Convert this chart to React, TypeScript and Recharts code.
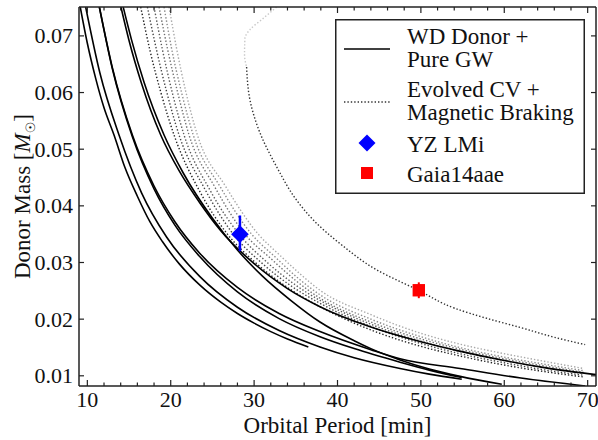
import React from 'react';
import { ComposedChart, Line, Scatter, XAxis, YAxis, ErrorBar, Legend } from 'recharts';

// Axis ticks
const periodTicks = [10, 12, 14, 16, 18, 20, 22, 24, 26, 28, 30, 32, 34, 36, 38, 40, 42, 44, 46, 48, 50, 52, 54, 56, 58, 60, 62, 64, 66, 68, 70];
const massTicks = [0.01, 0.02, 0.03, 0.04, 0.05, 0.06, 0.07];
const periodDomain = [9, 71];
const massDomain = [0.0082, 0.0751];

// WD donor tracks, pure gravitational-wave driven: [period (min), donor mass (Msun)]
const wdTrack1 = [[9.15, 0.0751], [10, 0.0687], [11, 0.0625], [12, 0.0573], [13.2, 0.0525], [14.5, 0.0468], [16, 0.0417], [17.5, 0.0372], [19, 0.0337], [21, 0.0298], [23.5, 0.026], [26, 0.023], [28, 0.021], [30, 0.0193], [32, 0.0178], [34, 0.0165], [36.5, 0.0151]];
const wdTrack2 = [[9.8, 0.0751], [11.5, 0.0635], [13.8, 0.0525], [16.5, 0.0423], [19.5, 0.0345], [23.5, 0.0275], [28, 0.0221], [33, 0.018], [37.9, 0.0151], [42, 0.0132], [47.5, 0.0113], [51, 0.0103], [54.9, 0.0094]];
const wdTrack3 = [[11.44, 0.0751], [13, 0.0644], [15.4, 0.0525], [18, 0.0435], [20.5, 0.0372], [23.5, 0.0316], [28, 0.0256], [33, 0.021], [37.9, 0.0178], [44, 0.0146], [47.5, 0.013], [54.7, 0.0113], [62, 0.0096], [69.7, 0.0082]];
const wdTrack4 = [[11.44, 0.0751], [13, 0.0642], [15.4, 0.0522], [18, 0.043], [20.5, 0.0366], [23.5, 0.031], [28, 0.0248], [33, 0.0201], [37.9, 0.0169], [42, 0.0148], [47.5, 0.0124], [51, 0.011], [54.9, 0.0097]];
const wdTrack5 = [[14.03, 0.0751], [15, 0.0692], [16.5, 0.0616], [18.8, 0.0525], [21, 0.0462], [23.5, 0.0405], [26, 0.0356], [30, 0.0298], [34, 0.0254], [37.9, 0.0222], [44, 0.0186], [50, 0.016], [54.5, 0.0144], [60, 0.0127], [65, 0.0114], [71, 0.0102]];
const wdTrack6 = [[14.3, 0.0751], [15.3, 0.0693], [16.8, 0.0618], [19.2, 0.0525], [21.5, 0.0458], [25, 0.0378], [28, 0.0322], [31, 0.0276], [34.5, 0.0232], [37.9, 0.0195], [42, 0.0162], [44, 0.0148], [47.5, 0.0128], [51, 0.0112], [54.7, 0.0099], [59.7, 0.0085]];

// Evolved CV tracks with magnetic braking
const cvTrack1 = [[16.4, 0.0751], [17.5, 0.0675], [18.8, 0.0601], [20.4, 0.0525], [23.5, 0.0425], [26.8, 0.035], [30, 0.0302], [33.5, 0.0261], [37.9, 0.0222], [44, 0.0181], [50, 0.0152], [54.1, 0.0137], [60, 0.0119], [65, 0.0107], [69.5, 0.0098]];
const cvTrack2 = [[17.2, 0.0751], [18.3, 0.0675], [19.5, 0.0602], [21, 0.0525], [24, 0.0432], [27.5, 0.035], [31, 0.0298], [34.5, 0.0258], [37.9, 0.0228], [44, 0.0187], [50, 0.0157], [54.1, 0.0141], [60, 0.0123], [65, 0.011], [69.5, 0.0101]];
const cvTrack3 = [[18, 0.0751], [19, 0.0676], [20.2, 0.0599], [21.6, 0.0525], [24.7, 0.0428], [28.2, 0.035], [31.5, 0.0301], [34.8, 0.0262], [37.9, 0.0233], [44, 0.0191], [50, 0.0161], [54.1, 0.0145], [60, 0.0127], [65, 0.0114], [69.5, 0.0104]];
const cvTrack4 = [[18.6, 0.0751], [19.6, 0.0678], [20.8, 0.0602], [22.2, 0.0525], [25.3, 0.0433], [28.9, 0.035], [32, 0.0307], [35, 0.0268], [37.9, 0.0237], [44, 0.0195], [50, 0.0165], [54.1, 0.0149], [60, 0.013], [65, 0.0117], [69.5, 0.0106]];
const cvTrack5 = [[19.2, 0.0751], [20.1, 0.0678], [21.3, 0.06], [22.7, 0.0525], [26, 0.0432], [29.7, 0.035], [32.5, 0.031], [35.3, 0.0272], [37.9, 0.0243], [44, 0.02], [50, 0.0169], [54.1, 0.0152], [60, 0.0133], [65, 0.012], [69.5, 0.0109]];
const cvTrack6 = [[19.8, 0.0751], [20.7, 0.0678], [21.8, 0.0602], [23.2, 0.0525], [26.6, 0.0434], [30.5, 0.035], [33, 0.0314], [35.5, 0.028], [37.9, 0.0251], [44, 0.0208], [50, 0.0175], [54.1, 0.0158], [60, 0.0139], [65, 0.0125], [69.5, 0.0113]];
// Long-period track passing through Gaia14aae (early turn-around, then main branch)
const cvTrackWideEarly = [[32.7, 0.0751], [31.1, 0.0731], [29.5, 0.0711], [28.9, 0.0696], [28.85, 0.0667], [29.1, 0.0645]];
const cvTrackWide = [[29.1, 0.0645], [29.5, 0.0587], [30.7, 0.0529], [32.7, 0.0469], [35.1, 0.041], [37.1, 0.0375], [40.5, 0.0331], [44.7, 0.0287], [49.7, 0.0251], [54.1, 0.0219], [58, 0.0201], [62, 0.0185], [66, 0.0168], [69.7, 0.0155]];

// Observed systems: period, mass, [lower, upper] mass error
const yzLMi = [{ p: 28.3, m: 0.035, err: [0.003, 0.0033] }];
const gaia14aae = [{ p: 49.75, m: 0.0251, err: [0.0014, 0.0014] }];

const toPoints = (pairs: number[][]) => pairs.map(([p, m]) => ({ p, m }));

const solidTracks = [wdTrack1, wdTrack2, wdTrack3, wdTrack4, wdTrack5, wdTrack6];
const dottedTracks = [
  { pts: cvTrack6, color: '#a8a8a8' },
  { pts: cvTrack5, color: '#8c8c8c' },
  { pts: cvTrack4, color: '#707070' },
  { pts: cvTrack3, color: '#5a5a5a' },
  { pts: cvTrack2, color: '#444444' },
  { pts: cvTrack1, color: '#222222' },
];

const INK = '#222';
const FONT = 'Liberation Serif, Tinos, Times New Roman, DejaVu Serif, serif';
const DOTS = '1.4 2';

function BottomTick(props: any) {
  const { x, y, payload } = props;
  const v = payload.value;
  const major = v % 10 === 0;
  return (
    <g>
      <line x1={x} x2={x} y1={y} y2={y - (major ? 6 : 3.5)} stroke={INK} strokeWidth={1.2} />
      {major && (
        <text x={x} y={y + 21} textAnchor="middle" style={{ fontFamily: FONT }} fontSize={22} fill="#111">
          {v}
        </text>
      )}
    </g>
  );
}

function TopTick(props: any) {
  const { x, y, payload } = props;
  const major = payload.value % 10 === 0;
  return <line x1={x} x2={x} y1={y} y2={y + (major ? 6 : 3.5)} stroke={INK} strokeWidth={1.2} />;
}

function LeftTick(props: any) {
  const { x, y, payload } = props;
  return (
    <g>
      <line x1={x} x2={x + 5} y1={y} y2={y} stroke={INK} strokeWidth={1.2} />
      <text x={x - 6} y={y + 7.5} textAnchor="end" style={{ fontFamily: FONT }} fontSize={22} fill="#111">
        {payload.value.toFixed(2)}
      </text>
    </g>
  );
}

function RightTick(props: any) {
  const { x, y } = props;
  return <line x1={x} x2={x - 5} y1={y} y2={y} stroke={INK} strokeWidth={1.2} />;
}

function PeriodTitle(props: any) {
  const { viewBox } = props;
  return (
    <text x={viewBox.x + viewBox.width / 2} y={viewBox.y + 47} textAnchor="middle" style={{ fontFamily: FONT }} fontSize={23} fill="#111">
      Orbital Period [min]
    </text>
  );
}

function MassTitle(props: any) {
  const { viewBox } = props;
  const cx = viewBox.x + viewBox.width - 49;
  const cy = viewBox.y + viewBox.height / 2;
  return (
    <text transform={`translate(${cx},${cy}) rotate(-90)`} textAnchor="middle" style={{ fontFamily: FONT }} fontSize={23} fill="#111">
      Donor Mass [<tspan fontStyle="italic">M</tspan>
      <tspan style={{ fontFamily: 'DejaVu Sans' }} fontSize={13} dy={5}>☉</tspan>
      <tspan dy={-5}>]</tspan>
    </text>
  );
}

function Diamond(props: any) {
  const { cx, cy } = props;
  const h = 8.8;
  return <polygon points={`${cx},${cy - h} ${cx + h},${cy} ${cx},${cy + h} ${cx - h},${cy}`} fill="#0000ff" />;
}

function Square(props: any) {
  const { cx, cy } = props;
  const h = 6.2;
  return <rect x={cx - h} y={cy - h} width={2 * h} height={2 * h} fill="#ff0000" />;
}

function LegendBox() {
  const st = { fontFamily: FONT };
  return (
    <svg width={250} height={175} style={{ display: 'block' }}>
      <rect x={0.75} y={0.75} width={248.5} height={173.5} fill="#fff" stroke={INK} strokeWidth={1.5} />
      <line x1={9} x2={55} y1={30} y2={30} stroke="#000" strokeWidth={1.6} />
      <text x={72} y={25} style={st} fontSize={23} fill="#111">WD Donor +</text>
      <text x={72} y={48} style={st} fontSize={23} fill="#111">Pure GW</text>
      <line x1={9} x2={55} y1={83} y2={83} stroke="#333" strokeWidth={1.3} strokeDasharray={DOTS} />
      <text x={72} y={78} style={st} fontSize={23} fill="#111">Evolved CV +</text>
      <text x={72} y={101} style={st} fontSize={23} fill="#111">Magnetic Braking</text>
      <polygon points="32,115.5 40.5,124 32,132.5 23.5,124" fill="#0000ff" />
      <text x={72} y={133} style={st} fontSize={23} fill="#111">YZ LMi</text>
      <rect x={26} y={148} width={12} height={12} fill="#ff0000" />
      <text x={72} y={163} style={st} fontSize={23} fill="#111">Gaia14aae</text>
    </svg>
  );
}

export default function App() {
  return (
    <div style={{ position: 'absolute', left: 0, top: 0, width: 598, height: 440, background: '#fff' }}>
      <ComposedChart width={598} height={440} margin={{ top: 6, right: 1, bottom: 53, left: 78 }}>
        <XAxis
          dataKey="p"
          type="number"
          domain={periodDomain}
          allowDataOverflow
          ticks={periodTicks}
          interval={0}
          height={1}
          tickSize={0}
          tickMargin={0}
          tick={BottomTick}
          axisLine={{ stroke: INK, strokeWidth: 1.5 }}
          label={{ content: PeriodTitle }}
        />
        <XAxis
          xAxisId="top"
          orientation="top"
          dataKey="p"
          type="number"
          domain={periodDomain}
          allowDataOverflow
          ticks={periodTicks}
          interval={0}
          height={1}
          tickSize={0}
          tickMargin={0}
          tick={TopTick}
          axisLine={{ stroke: INK, strokeWidth: 1.5 }}
        />
        <YAxis
          dataKey="m"
          type="number"
          domain={massDomain}
          allowDataOverflow
          ticks={massTicks}
          interval={0}
          width={1}
          tickSize={0}
          tickMargin={0}
          tick={LeftTick}
          axisLine={{ stroke: INK, strokeWidth: 1.5 }}
          label={{ content: MassTitle }}
        />
        <YAxis
          yAxisId="right"
          orientation="right"
          type="number"
          domain={massDomain}
          allowDataOverflow
          ticks={massTicks}
          interval={0}
          width={1}
          tickSize={0}
          tickMargin={0}
          tick={RightTick}
          axisLine={{ stroke: INK, strokeWidth: 1.5 }}
        />

        {dottedTracks.map((tr, i) => (
          <Line
            key={`cv${i}`}
            data={toPoints(tr.pts)}
            dataKey="m"
            type="monotone"
            stroke={tr.color}
            strokeWidth={1.4}
            strokeDasharray={DOTS}
            dot={false}
            activeDot={false}
            isAnimationActive={false}
          />
        ))}
        <Line
          data={toPoints(cvTrackWideEarly)}
          dataKey="m"
          type="monotoneY"
          stroke="#c8c8c8"
          strokeWidth={1.4}
          strokeDasharray={DOTS}
          dot={false}
          activeDot={false}
          isAnimationActive={false}
        />
        <Line
          data={toPoints(cvTrackWide)}
          dataKey="m"
          type="monotoneY"
          stroke="#333333"
          strokeWidth={1.4}
          strokeDasharray={DOTS}
          dot={false}
          activeDot={false}
          isAnimationActive={false}
        />
        {solidTracks.map((tr, i) => (
          <Line
            key={`wd${i}`}
            data={toPoints(tr)}
            dataKey="m"
            type="monotone"
            stroke="#000"
            strokeWidth={1.6}
            dot={false}
            activeDot={false}
            isAnimationActive={false}
          />
        ))}

        <Scatter data={yzLMi} dataKey="m" shape={Diamond} isAnimationActive={false}>
          <ErrorBar dataKey="err" direction="y" width={0} stroke="#0000ff" strokeWidth={2.5} />
        </Scatter>
        <Scatter data={gaia14aae} dataKey="m" shape={Square} isAnimationActive={false}>
          <ErrorBar dataKey="err" direction="y" width={0} stroke="#ff0000" strokeWidth={2} />
        </Scatter>

        <Legend
          layout="vertical"
          align="center"
          verticalAlign="middle"
          content={() => <LegendBox />}
          wrapperStyle={{ left: 335, top: 19, width: 250, height: 175, margin: 0, padding: 0 }}
        />
      </ComposedChart>
    </div>
  );
}
